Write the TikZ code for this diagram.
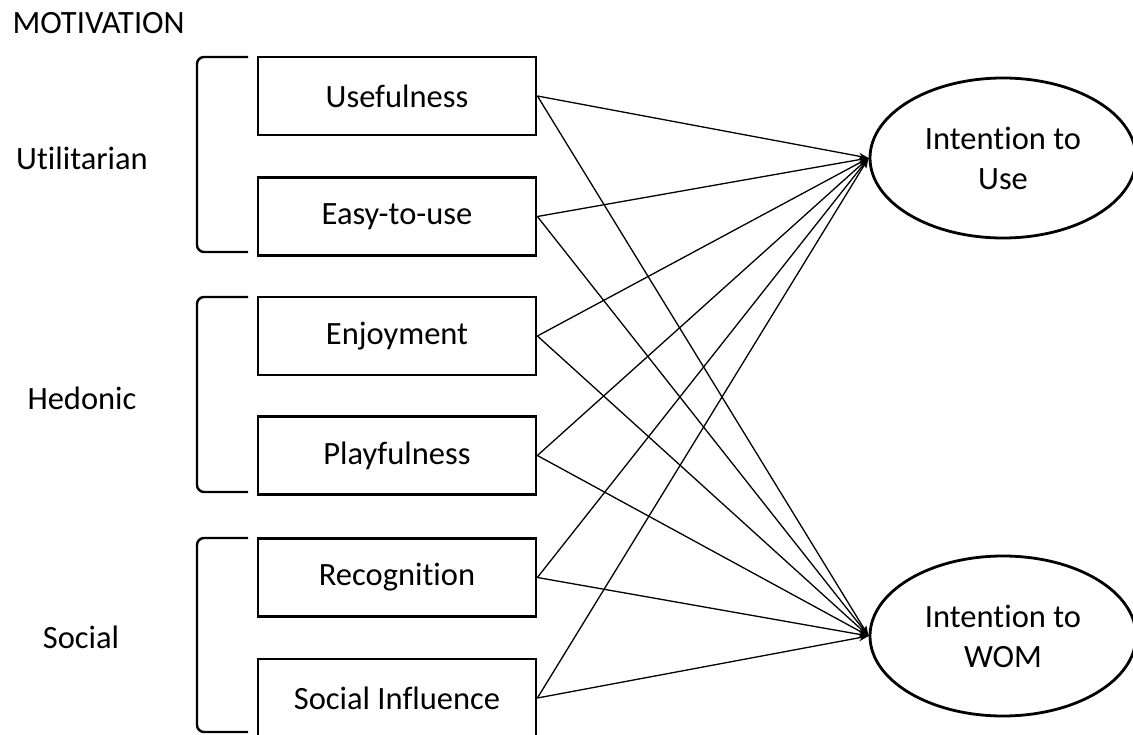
\documentclass[tikz,border=0pt]{standalone}
\usepackage{fontspec}
\setmainfont{Carlito}[Ligatures=NoCommon]
\usetikzlibrary{shapes.geometric,arrows.meta}
\begin{document}
\begin{tikzpicture}[x=1pt,y=-1pt,
  every node/.style={font=\fontsize{32.5}{40}\selectfont},
  factor/.style={draw,line width=2.8pt,minimum width=278pt,minimum height=78pt,inner sep=0pt},
  outcome/.style={draw,ellipse,line width=2.8pt,minimum width=266pt,minimum height=160pt,inner sep=0pt,align=center},
  bracketline/.style={line width=2.4pt,rounded corners=7pt},
  link/.style={line width=1.3pt,-{Stealth[length=10pt,width=7pt]}},
  grouplabel/.style={anchor=center}]
\useasboundingbox (0,0) rectangle (1133,735);
% title
\node[anchor=west] (title) at (9,23) {MOTIVATION};
% group labels
\node[grouplabel] (util) at (82,158) {Utilitarian};
\node[grouplabel] (hed) at (82,398) {Hedonic};
\node[grouplabel] (soci) at (81,637) {Social};
% brackets
\draw[bracketline] (248,57) -- (197,57) -- (197,252) -- (248,252);
\draw[bracketline] (248,297) -- (197,297) -- (197,492) -- (248,492);
\draw[bracketline] (248,538) -- (197,538) -- (197,732) -- (248,732);
% factor boxes
\node[factor] (useful) at (397,96) {Usefulness};
\node[factor] (easy) at (397,216.5) {Easy-to-use};
\node[factor] (enjoy) at (397,336) {Enjoyment};
\node[factor] (play) at (397,455.5) {Playfulness};
\node[factor] (recog) at (397,577.5) {Recognition};
\node[factor] (socinf) at (397,698) {Social Influence};
% outcomes
\node[outcome] (intuse) at (1003,158) {Intention to\\Use};
\node[outcome] (intwom) at (1003,636) {Intention to\\WOM};
% links
\foreach \f in {useful,easy,enjoy,play,recog,socinf}{
  \draw[link] (\f.east) -- (intuse.west);
  \draw[link] (\f.east) -- (intwom.west);
}
\end{tikzpicture}
\end{document}
